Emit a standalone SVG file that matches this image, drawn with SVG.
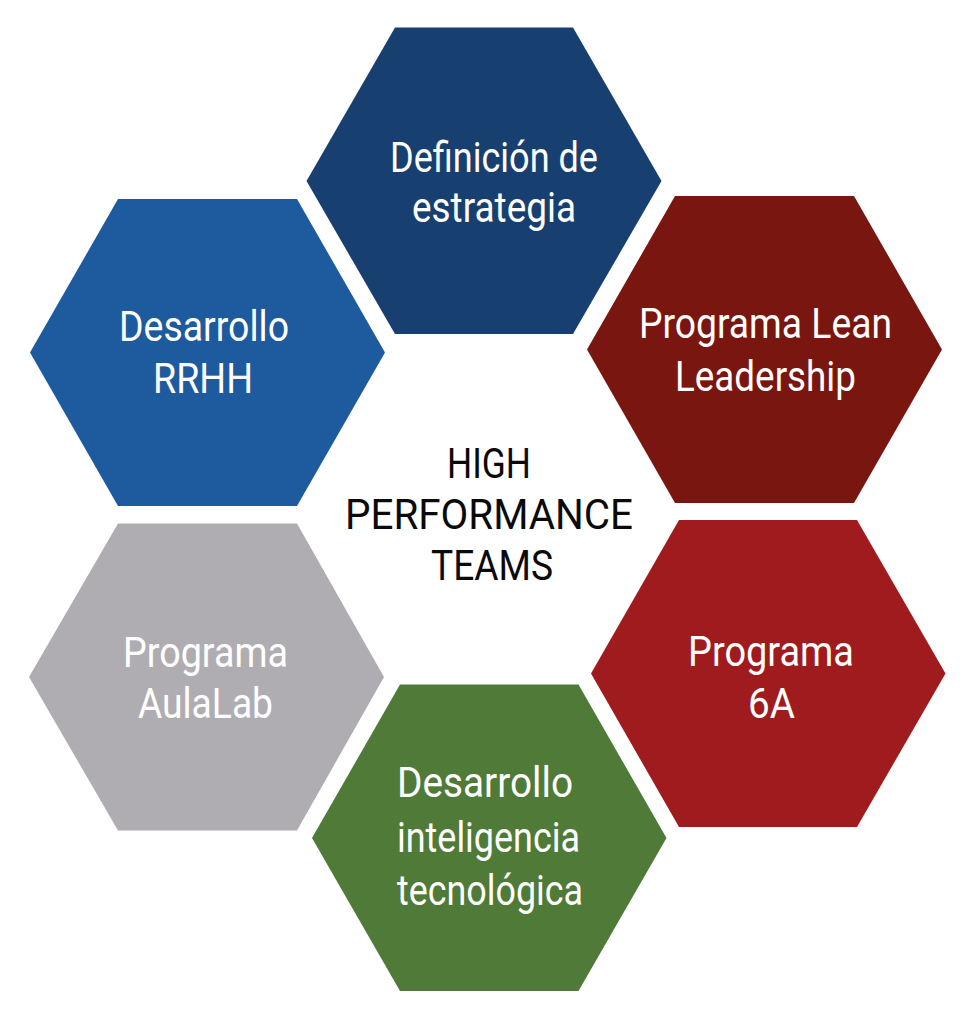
<svg xmlns="http://www.w3.org/2000/svg" width="964" height="1024" viewBox="0 0 964 1024">
<style>
.lbl{font-family:Roboto,"Liberation Sans",sans-serif;font-size:42px;font-weight:400;fill:#ffffff;}
.ctr{font-family:Roboto,"Liberation Sans",sans-serif;font-size:42px;font-weight:400;fill:#0a0a0a;}
</style>
<rect width="964" height="1024" fill="#ffffff"/>
<g id="hex-estrategia">
<polygon points="306.5,181 395,27.5 573,27.5 661.5,181 573,334 395,334" fill="#173F70"/>
<text class="lbl" x="390" y="172" textLength="208" lengthAdjust="spacingAndGlyphs">Definición de</text>
<text class="lbl" x="412" y="222" textLength="164" lengthAdjust="spacingAndGlyphs">estrategia</text>
</g>
<g id="hex-rrhh">
<polygon points="30,352.5 118,199 297,199 385,352.5 297,506 118,506" fill="#1E5A9E"/>
<text class="lbl" x="119" y="341" textLength="170" lengthAdjust="spacingAndGlyphs">Desarrollo</text>
<text class="lbl" x="153" y="393" textLength="100" lengthAdjust="spacingAndGlyphs">RRHH</text>
</g>
<g id="hex-lean">
<polygon points="587,349.5 675,196 854,196 942,349.5 854,503 675,503" fill="#7A1610"/>
<text class="lbl" x="639" y="338" textLength="253" lengthAdjust="spacingAndGlyphs">Programa Lean</text>
<text class="lbl" x="675" y="391" textLength="181" lengthAdjust="spacingAndGlyphs">Leadership</text>
</g>
<g id="hex-aulalab">
<polygon points="29,677 118,523.5 297,523.5 384,677 297,830.5 118,830.5" fill="#B0ADB2"/>
<text class="lbl" x="123" y="667" textLength="165" lengthAdjust="spacingAndGlyphs">Programa</text>
<text class="lbl" x="138" y="718" textLength="135" lengthAdjust="spacingAndGlyphs">AulaLab</text>
</g>
<g id="hex-6a">
<polygon points="591,673.5 679,520 857,520 945.5,673.5 857,827 679,827" fill="#A01B1D"/>
<text class="lbl" x="688" y="666" textLength="166" lengthAdjust="spacingAndGlyphs">Programa</text>
<text class="lbl" x="748" y="718" textLength="47" lengthAdjust="spacingAndGlyphs">6A</text>
</g>
<g id="hex-tecnologica">
<polygon points="312,838 400,684.5 578.5,684.5 666.5,838 578.5,991 400,991" fill="#507A37"/>
<text class="lbl" x="397" y="797" textLength="176" lengthAdjust="spacingAndGlyphs">Desarrollo</text>
<text class="lbl" x="397" y="852" textLength="183" lengthAdjust="spacingAndGlyphs">inteligencia</text>
<text class="lbl" x="397" y="905" textLength="186" lengthAdjust="spacingAndGlyphs">tecnológica</text>
</g>
<g id="center">
<text class="ctr" x="447" y="478" textLength="84" lengthAdjust="spacingAndGlyphs">HIGH</text>
<text class="ctr" x="345" y="529" textLength="288" lengthAdjust="spacingAndGlyphs">PERFORMANCE</text>
<text class="ctr" x="431" y="580" textLength="122" lengthAdjust="spacingAndGlyphs">TEAMS</text>
</g>
</svg>
